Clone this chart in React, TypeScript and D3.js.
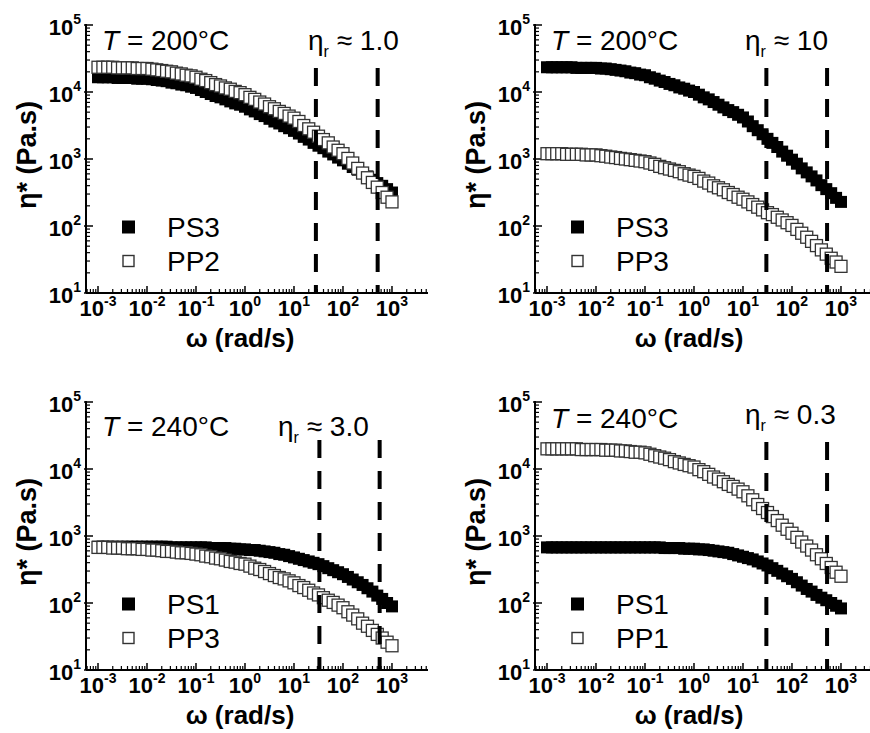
import { useEffect, useRef } from "react";
import * as d3 from "d3";

// angular frequency (rad/s), shared by every sweep
const OMEGA = [
  0.001, 0.00126, 0.00158, 0.002, 0.00251, 0.00316, 0.00398, 0.00501, 0.00631, 0.00794,
  0.01, 0.0126, 0.0158, 0.02, 0.0251, 0.0316, 0.0398, 0.0501, 0.0631, 0.0794,
  0.1, 0.126, 0.158, 0.2, 0.251, 0.316, 0.398, 0.501, 0.631, 0.794,
  1, 1.26, 1.58, 2, 2.51, 3.16, 3.98, 5.01, 6.31, 7.94,
  10, 12.6, 15.8, 20, 25.1, 31.6, 39.8, 50.1, 63.1, 79.4,
  100, 126, 158, 200, 251, 316, 398, 501, 631, 794, 1000,
];

// complex viscosity (Pa.s)
const P1_PS3 = [
  16600, 16600, 16600, 16600, 16200, 16200, 16200, 16200, 15800, 15800,
  15800, 15500, 15100, 14800, 14500, 13800, 13500, 12900, 12600, 12000,
  11500, 10700, 10000, 9330, 8710, 8320, 7760, 7240, 6760, 6460,
  6030, 5500, 5130, 4680, 4370, 3980, 3630, 3390, 3090, 2880,
  2630, 2400, 2140, 1950, 1740, 1580, 1450, 1290, 1170, 1050,
  955, 851, 759, 692, 617, 550, 490, 437, 398, 355, 316,
];
const P1_PP2 = [
  23400, 23400, 23400, 23400, 22900, 22900, 22900, 22900, 22400, 22400,
  22400, 21900, 21400, 20900, 20400, 20000, 19100, 18600, 17800, 17400,
  16600, 15500, 14800, 13800, 12900, 12300, 11500, 11000, 10200, 9770,
  9120, 8320, 7760, 7080, 6610, 6030, 5620, 5130, 4790, 4370,
  4070, 3630, 3160, 2820, 2510, 2190, 1950, 1740, 1510, 1350,
  1200, 1020, 871, 724, 617, 525, 447, 380, 316, 269, 229,
];
const P2_PS3 = [
  23400, 23400, 23400, 23400, 23400, 23400, 22900, 22900, 22900, 22900,
  22900, 22400, 22400, 21900, 21400, 20900, 20400, 19500, 19100, 18200,
  17800, 16600, 15800, 14800, 14100, 13200, 12600, 11700, 11200, 10500,
  10000, 9120, 8320, 7760, 7080, 6460, 5890, 5370, 5010, 4570,
  4170, 3630, 3090, 2690, 2340, 2000, 1740, 1510, 1290, 1120,
  977, 851, 724, 631, 550, 479, 407, 355, 309, 263, 229,
];
const P2_PP3 = [
  1200, 1200, 1200, 1200, 1175, 1175, 1175, 1175, 1150, 1150,
  1150, 1120, 1100, 1070, 1050, 1020, 1000, 977, 955, 933,
  912, 871, 832, 776, 741, 708, 676, 646, 603, 575,
  550, 513, 468, 437, 398, 372, 347, 316, 295, 269,
  251, 229, 209, 191, 174, 158, 148, 135, 123, 112,
  102, 89, 78, 68, 59, 51, 44, 38, 33, 29, 25,
];
const P3_PS1 = [
  692, 692, 692, 692, 692, 692, 692, 692, 692, 692,
  692, 692, 692, 692, 692, 676, 676, 676, 676, 676,
  676, 676, 676, 661, 661, 661, 661, 646, 646, 631,
  631, 617, 617, 603, 589, 575, 562, 537, 525, 501,
  479, 457, 437, 417, 398, 380, 355, 331, 309, 288,
  269, 245, 224, 204, 186, 166, 148, 129, 115, 100, 89,
];
const P3_PP3 = [
  676, 676, 676, 661, 661, 661, 646, 646, 646, 631,
  631, 617, 617, 603, 589, 589, 575, 562, 562, 550,
  537, 525, 501, 490, 468, 457, 437, 417, 407, 389,
  380, 355, 331, 316, 295, 275, 257, 240, 229, 214,
  200, 182, 170, 155, 141, 132, 120, 110, 102, 93,
  85, 74, 66, 58, 50, 45, 39, 34, 30, 26, 23,
];
const P4_PS1 = [
  676, 676, 676, 676, 676, 676, 676, 676, 676, 676,
  676, 676, 676, 676, 676, 676, 676, 676, 676, 676,
  676, 676, 676, 676, 661, 661, 661, 661, 646, 646,
  646, 631, 631, 617, 603, 589, 575, 562, 537, 513,
  490, 468, 447, 417, 389, 363, 331, 302, 275, 251,
  229, 204, 182, 162, 148, 132, 120, 110, 100, 91, 83,
];
const P4_PP1 = [
  20000, 20000, 20000, 20000, 20000, 20000, 20000, 19500, 19500, 19500,
  19500, 19500, 19100, 19100, 19100, 18600, 18600, 18200, 17800, 17800,
  17400, 16600, 15800, 15100, 14500, 13800, 12900, 12300, 11700, 11200,
  10700, 9770, 9120, 8320, 7590, 7080, 6460, 5890, 5500, 5010,
  4570, 3980, 3470, 2950, 2570, 2240, 1950, 1700, 1450, 1260,
  1100, 955, 813, 708, 617, 525, 457, 389, 339, 288, 251,
];

const FILLED = [P1_PS3, P2_PS3, P3_PS1, P4_PS1];
const OPEN = [P1_PP2, P2_PP3, P3_PP3, P4_PP1];
const FILLED_NAMES = ["PS3", "PS3", "PS1", "PS1"];
const OPEN_NAMES = ["PP2", "PP3", "PP3", "PP1"];
const TEMPS = ["200", "200", "240", "240"];
const RATIOS = ["1.0", "10", "3.0", "0.3"];
const DASH_OMEGA = [
  [28, 510],
  [30, 520],
  [33, 560],
  [30, 520],
];
const X_TICKS = [1e-3, 1e-2, 1e-1, 1, 10, 100, 1000];
const Y_TICKS = [10, 100, 1000, 1e4, 1e5];

// layout
const ORIGINS = [
  [86, 25],
  [535, 25],
  [86, 402],
  [535, 402],
];
const PW = 342;
const PH = 268;
const TEXT_Y = [25, 25, 34, 26];
const RATIO_X = [222, 210, 192, 210];
const RATIO_Y = [25, 25, 34, 22];
const DASH_TOP = [43, 43, 38, 40];
const FONT = "'Liberation Sans', Arial, sans-serif";
const MK = 12;

export default function App() {
  const svgRef = useRef<SVGSVGElement | null>(null);

  useEffect(() => {
    const svg = d3.select(svgRef.current);
    svg.selectAll("*").remove();
    svg.append("rect").attr("width", 870).attr("height", 733).attr("fill", "#fff");

    ORIGINS.forEach(([x0, y0], pi) => {
      const bottom = y0 + PH;
      const x = d3.scaleLog().domain([10 ** -3.245, 10 ** 3.735]).range([x0, x0 + PW]);
      const y = d3.scaleLog().domain([10, 1e5]).range([bottom, y0]);
      const g = svg.append("g").attr("font-family", FONT).attr("fill", "#000");

      // minor ticks
      const xMinor: number[] = [];
      for (let d = -4; d <= 3; d++) {
        for (let m = 2; m <= 9; m++) {
          const v = m * 10 ** d;
          if (v > x.domain()[0] && v < x.domain()[1]) xMinor.push(v);
        }
      }
      const yMinor: number[] = [];
      for (let d = 1; d <= 4; d++) {
        for (let m = 2; m <= 9; m++) yMinor.push(m * 10 ** d);
      }
      g.selectAll(".xmin")
        .data(xMinor)
        .join("line")
        .attr("x1", (d) => x(d))
        .attr("x2", (d) => x(d))
        .attr("y1", bottom)
        .attr("y2", bottom - 4)
        .attr("stroke", "#000")
        .attr("stroke-width", 1.2);
      g.selectAll(".xmaj")
        .data(X_TICKS)
        .join("line")
        .attr("x1", (d) => x(d))
        .attr("x2", (d) => x(d))
        .attr("y1", bottom)
        .attr("y2", bottom - 7)
        .attr("stroke", "#000")
        .attr("stroke-width", 1.5);
      g.selectAll(".ymin")
        .data(yMinor)
        .join("line")
        .attr("x1", x0)
        .attr("x2", x0 + 4)
        .attr("y1", (d) => y(d))
        .attr("y2", (d) => y(d))
        .attr("stroke", "#000")
        .attr("stroke-width", 1.2);
      g.selectAll(".ymaj")
        .data(Y_TICKS)
        .join("line")
        .attr("x1", x0 - 2)
        .attr("x2", x0 + 7)
        .attr("y1", (d) => y(d))
        .attr("y2", (d) => y(d))
        .attr("stroke", "#000")
        .attr("stroke-width", 1.5);

      // axis lines
      g.append("line")
        .attr("x1", x0)
        .attr("x2", x0 + PW)
        .attr("y1", bottom)
        .attr("y2", bottom)
        .attr("stroke", "#000")
        .attr("stroke-width", 2);
      g.append("line")
        .attr("x1", x0)
        .attr("x2", x0)
        .attr("y1", bottom)
        .attr("y2", y0 - 1)
        .attr("stroke", "#000")
        .attr("stroke-width", 2);

      // tick labels
      X_TICKS.forEach((v) => {
        const t = g
          .append("text")
          .attr("x", x(v))
          .attr("y", bottom + 23)
          .attr("text-anchor", "middle")
          .attr("font-weight", 700)
          .attr("font-size", 22);
        t.append("tspan").text("10");
        t.append("tspan")
          .attr("dy", -10)
          .attr("font-size", 14)
          .text(String(Math.round(Math.log10(v))));
      });
      Y_TICKS.forEach((v) => {
        const t = g
          .append("text")
          .attr("x", x0 - 5)
          .attr("y", y(v) + 10)
          .attr("text-anchor", "end")
          .attr("font-weight", 700)
          .attr("font-size", 22);
        t.append("tspan").text("10");
        t.append("tspan")
          .attr("dy", -11)
          .attr("font-size", 14)
          .text(String(Math.round(Math.log10(v))));
      });

      // axis titles
      g.append("text")
        .attr("x", x0 + 154)
        .attr("y", bottom + 54)
        .attr("text-anchor", "middle")
        .attr("font-weight", 700)
        .attr("font-size", 26)
        .text("ω (rad/s)");
      g.append("text")
        .attr("transform", `translate(${x0 - 50},${y0 + 130}) rotate(-90)`)
        .attr("text-anchor", "middle")
        .attr("font-weight", 700)
        .attr("font-size", 27)
        .text("η* (Pa.s)");

      // data
      const pts = (vals: number[]) => OMEGA.map((w, i) => ({ w, v: vals[i] }));
      g.append("g")
        .selectAll("rect")
        .data(pts(FILLED[pi]))
        .join("rect")
        .attr("x", (d) => x(d.w) - MK / 2)
        .attr("y", (d) => y(d.v) - MK / 2)
        .attr("width", MK)
        .attr("height", MK)
        .attr("fill", "#000");
      g.append("g")
        .selectAll("rect")
        .data(pts(OPEN[pi]))
        .join("rect")
        .attr("x", (d) => x(d.w) - MK / 2)
        .attr("y", (d) => y(d.v) - MK / 2)
        .attr("width", MK)
        .attr("height", MK)
        .attr("fill", "#fff")
        .attr("stroke", "#333")
        .attr("stroke-width", 1.3);

      // dashed guides
      DASH_OMEGA[pi].forEach((w) => {
        g.append("line")
          .attr("x1", x(w))
          .attr("x2", x(w))
          .attr("y1", y0 + DASH_TOP[pi])
          .attr("y2", bottom)
          .attr("stroke", "#000")
          .attr("stroke-width", 4)
          .attr("stroke-dasharray", "18,13");
      });

      // annotations
      const tt = g
        .append("text")
        .attr("x", x0 + 16)
        .attr("y", y0 + TEXT_Y[pi])
        .attr("font-size", 28);
      tt.append("tspan").attr("font-style", "italic").text("T");
      tt.append("tspan").text(` = ${TEMPS[pi]}°C`);

      const rt = g
        .append("text")
        .attr("x", x0 + RATIO_X[pi])
        .attr("y", y0 + RATIO_Y[pi])
        .attr("font-size", 28);
      rt.append("tspan").text("η");
      rt.append("tspan").attr("dy", 7).attr("font-size", 16).text("r");
      rt.append("tspan").attr("dy", -7).text(` ≈ ${RATIOS[pi]}`);

      // legend
      const r1 = bottom - 66;
      const r2 = bottom - 32;
      g.append("rect")
        .attr("x", x0 + 36)
        .attr("y", r1 - 6.5)
        .attr("width", 13)
        .attr("height", 13)
        .attr("fill", "#000");
      g.append("rect")
        .attr("x", x0 + 37)
        .attr("y", r2 - 5.5)
        .attr("width", 11)
        .attr("height", 11)
        .attr("fill", "#fff")
        .attr("stroke", "#333")
        .attr("stroke-width", 1.4);
      g.append("text")
        .attr("x", x0 + 81)
        .attr("y", r1 + 10)
        .attr("font-size", 28)
        .text(FILLED_NAMES[pi]);
      g.append("text")
        .attr("x", x0 + 81)
        .attr("y", r2 + 10)
        .attr("font-size", 28)
        .text(OPEN_NAMES[pi]);
    });
  }, []);

  return (
    <svg
      ref={svgRef}
      width={870}
      height={733}
      style={{ position: "absolute", left: 0, top: 0 }}
    />
  );
}
